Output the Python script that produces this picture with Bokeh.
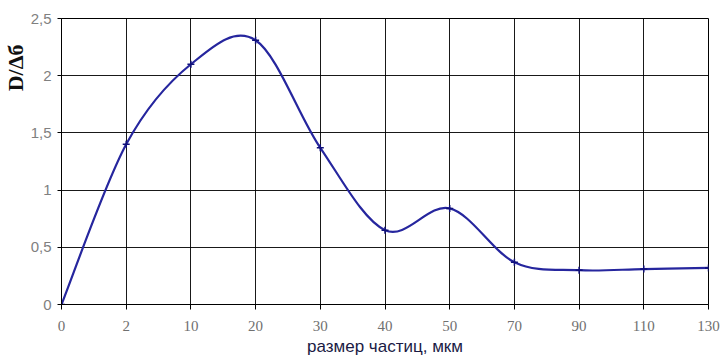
import numpy as np
from bokeh.plotting import figure
from bokeh.models import FixedTicker, Range1d, Title
from bokeh.embed import file_html
from bokeh.resources import INLINE

# ---- data ----
x_labels = ["0", "2", "10", "20", "30", "40", "50", "70", "90", "110", "130"]
y_values = [0.0, 1.40, 2.10, 2.31, 1.37, 0.65, 0.84, 0.37, 0.30, 0.31, 0.32]
y_ticks = [0, 0.5, 1, 1.5, 2, 2.5]
y_tick_labels = ["0", "0,5", "1", "1,5", "2", "2,5"]
x_title = "размер частиц, мкм"
y_title = "D/Δб"

xi = np.arange(len(y_values), dtype=float)
yv = np.array(y_values, dtype=float)
n = len(yv)

# smoothed line (Catmull-Rom -> cubic Bezier), as Excel's "smoothed line"
P = np.column_stack([xi, yv])
M = np.zeros_like(P)
for i in range(n):
    a = P[max(i - 1, 0)]
    b = P[min(i + 1, n - 1)]
    M[i] = (b - a) / 2.0
C0 = P[:-1] + M[:-1] / 3.0
C1 = P[1:] - M[1:] / 3.0

p = figure(width=720, height=361, output_backend="svg", toolbar_location=None,
           x_range=Range1d(0, n - 1), y_range=Range1d(0, 2.5),
           min_border_left=61, min_border_right=12, min_border_top=18,
           min_border_bottom=57)
p.background_fill_color = "white"
p.border_fill_color = "white"
p.outline_line_color = "black"
p.outline_line_width = 1

line_color = "#26269e"
p.bezier(x0=P[:-1, 0], y0=P[:-1, 1], x1=P[1:, 0], y1=P[1:, 1],
         cx0=C0[:, 0], cy0=C0[:, 1], cx1=C1[:, 0], cy1=C1[:, 1],
         line_color=line_color, line_width=2.2)
p.scatter(xi, yv, marker="cross", size=7, line_color="#10107a", line_width=1.5)

# axes
p.xaxis.ticker = FixedTicker(ticks=list(range(n)))
p.xaxis.major_label_overrides = {i: s for i, s in enumerate(x_labels)}
p.yaxis.ticker = FixedTicker(ticks=y_ticks)
p.yaxis.major_label_overrides = {t: s for t, s in zip(y_ticks, y_tick_labels)}
for ax in (p.xaxis, p.yaxis):
    ax.axis_line_color = "black"
    ax.major_tick_line_color = "black"
    ax.minor_tick_line_color = None
    ax.major_tick_in = 0
p.xaxis.major_tick_out = 5
p.yaxis.major_tick_out = 4
p.xaxis.major_label_text_font = "Liberation Serif"
p.xaxis.major_label_text_font_size = "15px"
p.xaxis.major_label_text_color = "#707070"
p.xaxis.major_label_standoff = 11
p.yaxis.major_label_text_font = "Liberation Sans"
p.yaxis.major_label_text_font_size = "15px"
p.yaxis.major_label_text_color = "#808080"
p.yaxis.major_label_standoff = 6

p.xaxis.axis_label = x_title
p.xaxis.axis_label_text_font = "Liberation Sans"
p.xaxis.axis_label_text_font_size = "17px"
p.xaxis.axis_label_text_font_style = "normal"
p.xaxis.axis_label_text_color = "#1a1a44"
p.xaxis.axis_label_standoff = 3

p.xgrid.ticker = FixedTicker(ticks=list(range(n)))
p.ygrid.ticker = FixedTicker(ticks=y_ticks)
for g in (p.xgrid, p.ygrid):
    g.grid_line_color = "black"
    g.grid_line_width = 1
    g.grid_line_alpha = 0.9

# y title, placed near the top of the left side
p.add_layout(Title(text=y_title, align="right", offset=26,
                   text_font="Liberation Serif", text_font_style="bold",
                   text_font_size="22px", text_color="#111111",
                   standoff=0), "left")

open("out.html", "w").write(file_html(p, INLINE))
